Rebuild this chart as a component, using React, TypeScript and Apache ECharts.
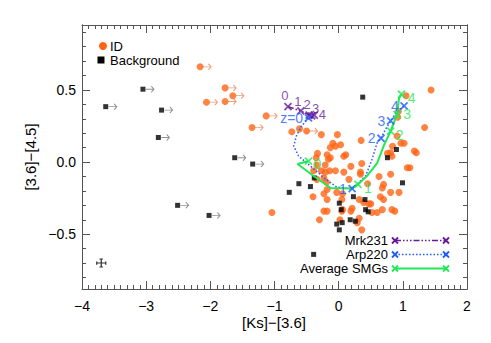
import React, { useEffect, useRef } from "react";
import * as echarts from "echarts";

// ---------- data ----------
const idPoints: number[][] = [
  [1.44, 0.5], [1.34, 0.24], [-0.73, 0.21], [-0.61, 0.23], [-0.27, 0.19], [-0.02, 0.19], [0.35, 0.15],
  [-0.09, 0.13], [-0.13, 0.1], [-0.05, 0.11], [-0.33, 0.06], [-0.35, 0.03], [-0.18, 0.05], [-0.13, 0.03],
  [-0.16, 0.02], [-0.34, -0.02], [-0.21, -0.02], [-0.27, -0.06], [-0.21, -0.07], [-0.14, -0.06], [-0.05, -0.06],
  [-0.34, -0.12], [-0.23, -0.11], [-0.19, -0.14], [-0.18, -0.19], [-0.18, -0.26], [-0.18, -0.34], [-0.3, -0.4],
  [-0.4, -0.24], [0.03, 0.12], [0.08, 0.04], [0.36, -0.01], [0.16, -0.12], [0.34, -0.07], [0.81, 0.065],
  [0.83, 0.04], [0.81, -0.085], [0.7, -0.155], [0.68, -0.18], [0.65, -0.24], [0.7, -0.26], [0.5, -0.29],
  [0.52, -0.35], [0.6, -0.35], [0.68, -0.33], [0.83, -0.33], [0.39, -0.28], [0.05, -0.26], [0.05, -0.34],
  [0.29, -0.42], [0.36, -0.47], [0.21, -0.32], [0.92, 0.31], [0.91, 0.18], [0.97, 0.13], [1.02, 0.13],
  [0.84, 0.11], [0.76, 0.06], [1.21, 0.065], [1.07, -0.04], [1.11, -0.04], [0.94, -0.21], [0.875, -0.34],
  [0.11, 0.05], [-0.39, -0.06], [-0.03, -0.21], [0.06, -0.22], [0.45, -0.15], [0.81, -0.21], [0.32, -0.26],
  [0.47, -0.29], [-0.23, -0.34], [0.02, -0.4], [0.32, -0.39], [0.34, -0.085], [-1.04, -0.35], [1.05, 0.46],
  [0.93, 0.35], [0.63, -0.1], [0.19, -0.03], [0.08, -0.07], [-0.23, -0.22], [0.06, -0.33], [0.19, -0.34],
  [1.18, 0.076],
];
const idLimits: number[][] = [
  [-2.16, 0.66], [-1.77, 0.514], [-1.65, 0.46], [-2.06, 0.415], [-1.77, 0.42], [-1.13, 0.32], [-1.35, 0.24],
  [-0.5, 0.215],
];
const bgPoints: number[][] = [
  [0.375, 0.45], [-0.77, -0.21], [-0.62, -0.15], [-0.44, -0.17], [-0.38, -0.11], [0.01, -0.285], [0.23, -0.24],
  [0.41, -0.26], [0.42, -0.33], [0.46, -0.345], [0.04, -0.33], [-0.03, -0.43], [0.055, -0.42], [0.01, -0.47],
  [0.18, -0.4], [0.26, -0.41], [0.76, 0.03], [0.9, 0.087], [0.995, -0.144], [-0.39, -0.64],
];
const bgLimits: number[][] = [
  [-3.05, 0.505], [-3.63, 0.384], [-2.76, 0.36], [-2.81, 0.17], [-1.62, 0.03], [-1.34, -0.014], [-2.51, -0.3],
  [-2.02, -0.37],
];
const errorBarPos: number[] = [-3.7, -0.7];

const mrkX = [-0.79, -0.59, -0.46, -0.42, -0.38];
const mrkY = [0.384, 0.354, 0.326, 0.32, 0.326];
const mrkZIdx = [0, 1, 2, 3, 4];
const mrkLabels = ["0", "1", "2", "3", "4"];

const arpX = [-0.47, -0.59, -0.66, -0.7, -0.625, -0.44, -0.23, -0.03, 0.21, 0.42, 0.52, 0.6, 0.66, 0.73, 0.81, 0.89, 1.02];
const arpY = [0.306, 0.243, 0.18, 0.11, 0.042, -0.028, -0.109, -0.174, -0.185, -0.097, 0.019, 0.134, 0.165, 0.227, 0.285, 0.34, 0.39];
const arpZIdx = [0, 8, 12, 14, 16];
const arpLabels = ["z=0", "1", "2", "3", "4"];

const smgX = [-0.47, -0.64, -0.39, -0.125, 0.19, 0.3, 0.44, 0.6, 0.7, 0.81, 0.91, 0.94, 0.98];
const smgY = [0.007, -0.014, -0.097, -0.18, -0.184, -0.155, -0.097, -0.007, 0.11, 0.215, 0.33, 0.44, 0.47];
const smgZIdx = [0, 5, 9, 10, 12];
const smgLabels = ["0", "1", "2", "3", "4"];

const xTickMin = -4;
const xTickMax = 2;
const yMajorTicks = [-0.5, 0, 0.5];
const yMinorTicks = [-0.8, -0.7, -0.6, -0.4, -0.3, -0.2, -0.1, 0.1, 0.2, 0.3, 0.4, 0.6, 0.7, 0.8, 0.9];
const legendNames = ["ID", "Background"];
const trackNames = ["Mrk231", "Arp220", "Average SMGs"];
const xTitle = "[Ks]−[3.6]";
const yTitle = "[3.6]−[4.5]";

// ---------- styles ----------
const FONT = "'Liberation Sans', Arial, sans-serif";
const ORANGE = "#ff6414";
const PURPLE = "#661a99";
const BLUE = "#1f5cff";
const GREEN = "#22e855";
const AXIS = "#555";
const Y_MIN = -0.88;
const Y_MAX = 0.95;

const XMARK = "path://M0,0L10,10M10,0L0,10";
const ARROW = "path://M0,5L12,5M8,1L12,5L8,9";
const ERRBAR = "path://M0,5L10,5M5,0L5,10M0,3L0,7M10,3L10,7M3,0L7,0M3,10L7,10";

const mrkLabelOffsets = [[-3, -11], [-3, -9], [-2, -11], [4, -7], [8, -1]];
const arpLabelPos = ["left", "left", "left", "left", "left"];
const smgLabelOffsets = [[9, 3], [10, 4], [9, 4], [10, 0], [10, 4]];

const fmtNum = (v: number, d: number) => (v < 0 ? "−" : "") + Math.abs(v).toFixed(d);

function trackLine(name: string, xs: number[], ys: number[], color: string, type: any, width: number) {
  return {
    name,
    type: "line",
    data: xs.map((x, i) => [x, ys[i]]),
    showSymbol: false,
    symbol: "none",
    lineStyle: { color, type, width },
    z: 5,
    silent: true,
  };
}

function trackMarks(
  name: string,
  xs: number[],
  ys: number[],
  idx: number[],
  labels: string[],
  color: string,
  labelFor: (i: number) => any
) {
  return {
    name: name + "-z",
    type: "scatter",
    symbol: XMARK,
    symbolSize: 7,
    itemStyle: { color: "transparent", borderColor: color, borderWidth: 1.8 },
    z: 6,
    data: idx.map((k, i) => ({
      value: [xs[k], ys[k]],
      label: { show: true, formatter: labels[i], color, fontSize: 13, fontFamily: FONT, ...labelFor(i) },
    })),
  };
}

function legendTrack(y: number, color: string, dash: any, width: number, label: string) {
  const x0 = 395, x1 = 446, s = 3;
  const xm = (cx: number) => [
    { type: "line", shape: { x1: cx - s, y1: y - s, x2: cx + s, y2: y + s }, style: { stroke: color, lineWidth: 1.8 } },
    { type: "line", shape: { x1: cx - s, y1: y + s, x2: cx + s, y2: y - s }, style: { stroke: color, lineWidth: 1.8 } },
  ];
  return [
    { type: "text", x: 388, y, style: { text: label, fill: "#000", font: `13px ${FONT}`, textAlign: "right", textVerticalAlign: "middle" } },
    { type: "line", shape: { x1: x0, y1: y, x2: x1, y2: y }, style: { stroke: color, lineWidth: width, lineDash: dash } },
    ...xm(x0),
    ...xm(x1),
  ];
}

export default function App() {
  const ref = useRef<HTMLDivElement>(null);
  useEffect(() => {
    if (!ref.current) return;
    const chart = echarts.init(ref.current, null, { renderer: "svg" });

    const xAxisBase = {
      type: "value",
      min: xTickMin,
      max: xTickMax,
      interval: 1,
      axisLine: { show: true, onZero: false, lineStyle: { color: AXIS, width: 1 } },
      axisTick: { show: true, inside: true, length: 8, lineStyle: { color: AXIS } },
      minorTick: { show: true, splitNumber: 10, length: 4, lineStyle: { color: AXIS } },
      splitLine: { show: false },
      minorSplitLine: { show: false },
    };
    const yAxisBase = (position: string, ticks: number[], len: number, labels: boolean) => ({
      type: "value",
      position,
      min: Y_MIN,
      max: Y_MAX,
      axisLine: { show: true, onZero: false, lineStyle: { color: AXIS, width: 1 } },
      axisTick: { show: true, inside: true, length: len, customValues: ticks, lineStyle: { color: AXIS } },
      axisLabel: labels
        ? {
            show: true,
            customValues: ticks,
            formatter: (v: number) => fmtNum(v, 1),
            fontSize: 14,
            color: "#000",
            fontFamily: FONT,
            margin: 6,
          }
        : { show: false },
      splitLine: { show: false },
    });

    const option: any = {
      animation: false,
      textStyle: { fontFamily: FONT },
      grid: { left: 82, right: 24, top: 25, bottom: 54, outerBoundsMode: "none" },
      xAxis: [
        {
          ...xAxisBase,
          position: "bottom",
          axisLabel: {
            show: true,
            formatter: (v: number) => fmtNum(v, 0),
            fontSize: 14,
            color: "#000",
            fontFamily: FONT,
            margin: 10,
          },
        },
        { ...xAxisBase, position: "top", axisLabel: { show: false } },
      ],
      yAxis: [
        yAxisBase("left", yMajorTicks, 8, true),
        yAxisBase("left", yMinorTicks, 4, false),
        yAxisBase("right", yMajorTicks, 8, false),
        yAxisBase("right", yMinorTicks, 4, false),
      ],
      series: [
        {
          name: "ID",
          type: "scatter",
          data: idPoints,
          symbol: "circle",
          symbolSize: 7,
          itemStyle: { color: ORANGE },
          z: 3,
        },
        {
          name: "ID-lim",
          type: "scatter",
          data: idLimits,
          symbol: "circle",
          symbolSize: 7,
          itemStyle: { color: ORANGE },
          z: 3,
        },
        {
          name: "ID-arrow",
          type: "scatter",
          data: idLimits,
          symbol: ARROW,
          symbolSize: [8, 6],
          symbolOffset: [7, 0],
          itemStyle: { color: "transparent", borderColor: "#e8875a", borderWidth: 1 },
          z: 2,
        },
        {
          name: "Background",
          type: "scatter",
          data: bgPoints,
          symbol: "rect",
          symbolSize: 5,
          itemStyle: { color: "#000" },
          z: 4,
        },
        {
          name: "BG-lim",
          type: "scatter",
          data: bgLimits,
          symbol: "rect",
          symbolSize: 5,
          itemStyle: { color: "#000" },
          z: 4,
        },
        {
          name: "BG-arrow",
          type: "scatter",
          data: bgLimits,
          symbol: ARROW,
          symbolSize: [8, 6],
          symbolOffset: [7, 0],
          itemStyle: { color: "transparent", borderColor: "#777", borderWidth: 1 },
          z: 2,
        },
        {
          name: "errbar",
          type: "scatter",
          data: [errorBarPos],
          symbol: ERRBAR,
          symbolSize: [9, 8],
          itemStyle: { color: "transparent", borderColor: "#000", borderWidth: 1.2 },
        },
        trackLine(trackNames[0], mrkX, mrkY, PURPLE, [6, 2, 1.5, 2, 1.5, 2, 1.5, 2], 1.5),
        trackLine(trackNames[1], arpX, arpY, BLUE, [1.5, 2], 1.5),
        trackLine(trackNames[2], smgX, smgY, GREEN, "solid", 2),
        trackMarks(trackNames[0], mrkX, mrkY, mrkZIdx, mrkLabels, PURPLE, (i) => ({
          position: "inside",
          offset: mrkLabelOffsets[i],
        })),
        trackMarks(trackNames[1], arpX, arpY, arpZIdx, arpLabels, BLUE, (i) => ({
          position: arpLabelPos[i],
          distance: 1,
          fontSize: 14,
        })),
        trackMarks(trackNames[2], smgX, smgY, smgZIdx, smgLabels, GREEN, (i) => ({
          position: "inside",
          offset: smgLabelOffsets[i],
          fontSize: 14,
        })),
      ],
      graphic: [
        { type: "circle", shape: { cx: 103, cy: 46, r: 4 }, style: { fill: ORANGE } },
        { type: "text", x: 110, y: 46, style: { text: legendNames[0], fill: "#000", font: `13px ${FONT}`, textVerticalAlign: "middle" } },
        { type: "rect", shape: { x: 97.5, y: 56.5, width: 7, height: 7 }, style: { fill: "#000" } },
        { type: "text", x: 110, y: 60, style: { text: legendNames[1], fill: "#000", font: `13px ${FONT}`, textVerticalAlign: "middle" } },
        ...legendTrack(240.5, PURPLE, [6, 2, 1.5, 2, 1.5, 2, 1.5, 2], 1.5, trackNames[0]),
        ...legendTrack(254.5, BLUE, [1.5, 2], 1.5, trackNames[1]),
        ...legendTrack(268.5, GREEN, null, 2, trackNames[2]),
        { type: "text", x: 274, y: 322, style: { text: xTitle, fill: "#000", font: `15px ${FONT}`, textAlign: "center", textVerticalAlign: "middle" } },
        {
          type: "text",
          x: 30,
          y: 157,
          rotation: Math.PI / 2,
          style: { text: yTitle, fill: "#000", font: `15px ${FONT}`, textAlign: "center", textVerticalAlign: "middle" },
        },
      ],
    };
    chart.setOption(option);
    return () => chart.dispose();
  }, []);
  return <div ref={ref} style={{ position: "fixed", left: 0, top: 0, width: 491, height: 343, background: "#fff" }} />;
}
